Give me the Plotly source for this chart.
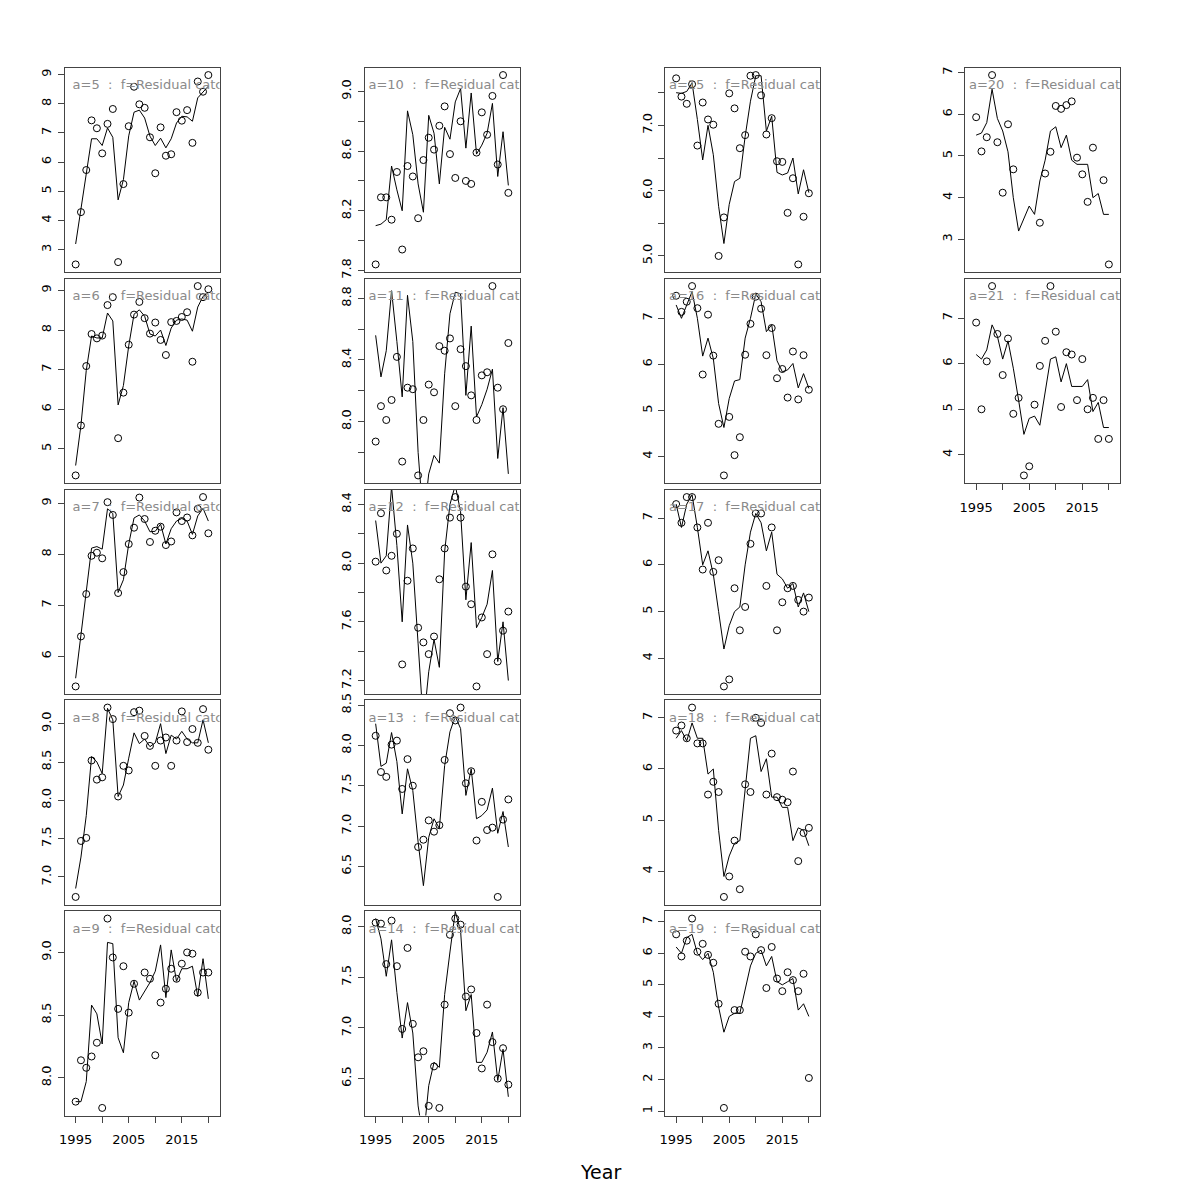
import plotly.graph_objects as go

years = [1995, 1996, 1997, 1998, 1999, 2000, 2001, 2002, 2003, 2004, 2005, 2006, 2007,
         2008, 2009, 2010, 2011, 2012, 2013, 2014, 2015, 2016, 2017, 2018, 2019, 2020]

obs_5 = [2.50, 4.29, 5.73, 7.43, 7.16, 6.30, 7.31, 7.82, 2.58, 5.25, 7.23, 8.58, 7.98,
         7.86, 6.85, 5.62, 7.19, 6.22, 6.27, 7.71, 7.42, 7.78, 6.66, 8.76, 8.41, 8.98]
fit_5 = [3.2, 4.4, 5.7, 6.8, 6.8, 6.57, 7.17, 6.85, 4.71, 5.4, 6.9, 7.71, 7.78,
         7.51, 6.89, 6.57, 6.82, 6.49, 6.8, 7.34, 7.57, 7.55, 7.4, 8.2, 8.4, 8.6]
obs_6 = [4.33, 5.59, 7.09, 7.90, 7.79, 7.86, 8.63, 8.83, 5.27, 6.42, 7.63, 8.39, 8.71,
         8.30, 7.91, 8.19, 7.75, 7.37, 8.20, 8.23, 8.33, 8.45, 7.20, 9.11, 8.83, 9.03]
fit_6 = [4.58, 5.6, 6.98, 7.85, 7.8, 7.8, 8.43, 8.23, 6.11, 6.6, 7.6, 8.4, 8.51,
         8.35, 7.9, 7.85, 8.0, 7.61, 8.05, 8.25, 8.28, 8.25, 7.97, 8.58, 8.85, 8.95]
obs_7 = [5.41, 6.39, 7.22, 7.97, 8.03, 7.92, 9.02, 8.77, 7.24, 7.65, 8.20, 8.52, 9.11,
         8.69, 8.24, 8.46, 8.54, 8.18, 8.25, 8.82, 8.65, 8.72, 8.37, 8.89, 9.12, 8.41]
fit_7 = [5.57, 6.4, 7.2, 8.12, 8.15, 8.1, 8.89, 8.8, 7.25, 7.5, 8.2, 8.71, 8.77,
         8.65, 8.44, 8.45, 8.59, 8.2, 8.5, 8.65, 8.7, 8.65, 8.39, 8.75, 8.9, 8.65]
obs_8 = [6.74, 7.47, 7.51, 8.52, 8.27, 8.30, 9.21, 9.06, 8.05, 8.45, 8.39, 9.15, 9.17,
         8.84, 8.71, 8.45, 8.78, 8.82, 8.45, 8.78, 9.16, 8.76, 8.93, 8.75, 9.19, 8.66]
fit_8 = [6.85, 7.26, 7.8, 8.57, 8.5, 8.35, 9.2, 9.05, 8.05, 8.2, 8.55, 8.88, 8.74,
         8.8, 8.7, 8.75, 9.0, 8.61, 8.85, 8.8, 8.9, 8.8, 8.75, 8.75, 9.05, 8.75]
obs_9 = [7.81, 8.14, 8.08, 8.17, 8.28, 7.76, 9.27, 8.96, 8.55, 8.89, 8.52, 8.75, None,
         8.84, 8.79, 8.18, 8.60, 8.71, 8.87, 8.79, 8.91, 9.00, 8.99, 8.68, 8.84, 8.84]
fit_9 = [7.81, 7.81, 7.97, 8.58, 8.51, 8.27, 9.08, 9.07, 8.32, 8.20, 8.60, 8.77, 8.62,
         8.69, 8.76, 8.85, 9.06, 8.64, 9.02, 8.77, 8.87, 8.87, 8.89, 8.65, 8.95, 8.63]
obs_10 = [7.84, 8.29, 8.29, 8.14, 8.46, 7.94, 8.50, 8.43, 8.15, 8.54, 8.69, 8.61, 8.77,
          8.90, 8.58, 8.42, 8.80, 8.40, 8.38, 8.59, 8.86, 8.71, 8.97, 8.51, 9.11, 8.32]
fit_10 = [8.10, 8.11, 8.14, 8.50, 8.34, 8.20, 8.87, 8.71, 8.38, 8.19, 8.84, 8.72, 8.38,
          8.76, 8.68, 8.93, 9.02, 8.62, 8.99, 8.58, 8.64, 8.72, 8.92, 8.43, 8.73, 8.37]
obs_11 = [7.87, 8.10, 8.01, 8.14, 8.42, 7.74, 8.22, 8.21, 7.65, 8.01, 8.24, 8.19, 8.49,
          8.46, 8.54, 8.10, 8.47, 8.36, 8.17, 8.01, 8.30, 8.32, 8.88, 8.22, 8.08, 8.51]
fit_11 = [8.56, 8.29, 8.46, 8.85, 8.52, 8.16, 8.82, 8.52, 7.80, 7.35, 7.66, 7.78, 7.73,
          8.31, 8.70, 8.84, 8.83, 8.17, 8.62, 8.03, 8.11, 8.21, 8.34, 7.76, 8.09, 7.66]
obs_12 = [8.01, 8.34, 7.95, 8.05, 8.20, 7.31, 7.88, 8.10, 7.56, 7.46, 7.38, 7.50, 7.89,
          8.10, 8.31, 8.45, 8.31, 7.84, 7.72, 7.16, 7.63, 7.38, 8.06, 7.33, 7.54, 7.67]
fit_12 = [8.29, 8.00, 8.05, 8.52, 8.12, 7.60, 8.26, 8.00, 7.45, 6.90, 7.26, 7.48, 7.29,
          8.08, 8.40, 8.53, 8.35, 7.75, 8.14, 7.56, 7.63, 7.72, 7.95, 7.33, 7.60, 7.20]
obs_13 = [8.12, 7.67, 7.61, 8.01, 8.06, 7.46, 7.83, 7.50, 6.74, 6.83, 7.07, 6.93, 7.01,
          7.82, 8.40, 8.31, 8.47, 7.53, 7.68, 6.82, 7.30, 6.95, 6.98, 6.12, 7.08, 7.33]
fit_13 = [8.27, 7.74, 7.78, 8.16, 7.80, 7.15, 7.71, 7.44, 6.80, 6.26, 6.86, 7.09, 6.97,
          7.75, 8.17, 8.36, 8.21, 7.38, 7.71, 7.09, 7.13, 7.20, 7.47, 6.91, 7.18, 6.74]
obs_14 = [8.04, 8.03, 7.63, 8.06, 7.61, 6.99, 7.79, 7.04, 6.71, 6.77, 6.23, 6.62, 6.21,
          7.23, 7.92, 8.08, 8.02, 7.31, 7.38, 6.95, 6.60, 7.23, 6.86, 6.50, 6.80, 6.44]
fit_14 = [8.08, 7.88, 7.51, 7.87, 7.35, 6.90, 7.25, 6.95, 6.23, 5.90, 6.43, 6.66, 6.61,
          7.33, 7.75, 8.15, 7.96, 7.17, 7.33, 6.66, 6.66, 6.76, 6.96, 6.48, 6.79, 6.32]
obs_15 = [7.72, 7.44, 7.33, 7.63, 6.69, 7.35, 7.09, 7.01, 5.00, 5.59, 7.49, 7.26, 6.65,
          6.85, 7.76, 7.77, 7.46, 6.86, 7.11, 6.45, 6.44, 5.66, 6.19, 4.87, 5.60, 5.96]
fit_15 = [7.50, 7.49, 7.52, 7.65, 7.09, 6.47, 7.00, 6.55, 5.76, 5.19, 5.79, 6.14, 6.19,
          6.83, 7.37, 7.76, 7.76, 6.91, 7.14, 6.28, 6.24, 6.27, 6.50, 5.95, 6.32, 5.97]
obs_16 = [7.49, 7.14, 7.36, 7.70, 7.22, 5.78, 7.08, 6.19, 4.71, 3.59, 4.86, 4.03, 4.42,
          6.21, 6.88, 7.47, 7.21, 6.20, 6.79, 5.70, 5.90, 5.28, 6.28, 5.24, 6.20, 5.45]
fit_16 = [7.29, 7.00, 7.29, 7.58, 7.00, 6.18, 6.57, 6.13, 5.15, 4.63, 5.26, 5.64, 5.67,
          6.57, 7.00, 7.53, 7.36, 6.71, 6.86, 6.08, 5.84, 5.88, 6.02, 5.49, 5.80, 5.48]
obs_17 = [7.30, 6.90, 7.45, 7.45, 6.80, 5.90, 6.90, 5.85, 6.10, 3.40, 3.55, 5.50, 4.60,
          5.10, 6.45, 7.10, 7.10, 5.55, 6.80, 4.60, 5.20, 5.50, 5.55, 5.25, 5.00, 5.30]
fit_17 = [7.30, 6.80, 7.30, 7.50, 6.80, 6.00, 6.30, 5.80, 5.00, 4.20, 4.70, 5.00, 5.10,
          6.00, 6.70, 7.10, 6.90, 6.30, 6.70, 5.80, 5.70, 5.50, 5.60, 5.10, 5.40, 5.00]
obs_18 = [6.75, 6.85, 6.60, 7.20, 6.50, 6.50, 5.50, 5.75, 5.55, 3.50, 3.90, 4.60, 3.65,
          5.70, 5.55, 7.00, 6.90, 5.50, 6.30, 5.45, 5.40, 5.35, 5.95, 4.20, 4.75, 4.85]
fit_18 = [6.60, 6.75, 6.55, 6.90, 6.60, 6.60, 5.90, 6.00, 4.80, 3.90, 4.30, 4.55, 4.60,
          5.60, 6.60, 6.65, 5.95, 6.20, 5.45, 5.45, 5.25, 5.25, 4.60, 4.85, 4.80, 4.50]
obs_19 = [6.60, 5.90, 6.40, 7.10, 6.05, 6.30, 5.95, 5.70, 4.40, 1.10, None, 4.20, 4.20,
          6.05, 5.90, 6.60, 6.10, 4.90, 6.20, 5.20, 4.80, 5.40, 5.15, 4.80, 5.35, 2.05]
fit_19 = [6.20, 6.00, 6.50, 6.60, 6.00, 5.80, 6.00, 5.40, 4.30, 3.50, 4.00, 4.10, 4.10,
          4.90, 5.60, 6.00, 6.10, 5.60, 5.90, 5.10, 5.00, 5.10, 5.20, 4.20, 4.40, 4.00]
obs_20 = [5.93, 5.11, 5.45, 6.94, 5.33, 4.12, 5.76, 4.68, None, None, None, None, 3.40,
          4.58, 5.10, 6.20, 6.13, 6.22, 6.31, 4.96, 4.56, 3.90, 5.20, None, 4.42, 2.40]
fit_20 = [5.50, 5.55, 5.80, 6.60, 5.90, 5.60, 5.10, 4.00, 3.20, 3.50, 3.80, 3.60, 4.40,
          4.90, 5.60, 5.70, 5.20, 5.50, 4.90, 4.80, 4.80, 4.80, 4.00, 4.10, 3.60, 3.60]
obs_21 = [6.90, 5.00, 6.05, 7.70, 6.65, 5.75, 6.55, 4.90, 5.25, 3.55, 3.75, 5.10, 5.95,
          6.50, 7.70, 6.70, 5.05, 6.25, 6.20, 5.20, 6.10, 5.00, 5.25, 4.35, 5.20, 4.35]
fit_21 = [6.20, 6.10, 6.30, 6.85, 6.60, 6.10, 6.50, 5.90, 5.20, 4.45, 4.80, 4.85, 4.65,
          5.40, 6.10, 6.15, 5.60, 6.00, 5.50, 5.50, 5.50, 5.65, 4.95, 5.15, 4.60, 4.60]

ages = [5, 6, 7, 8, 9, 10, 11, 12, 13, 14, 15, 16, 17, 18, 19, 20, 21]
obs = {5: obs_5, 6: obs_6, 7: obs_7, 8: obs_8, 9: obs_9, 10: obs_10, 11: obs_11, 12: obs_12,
       13: obs_13, 14: obs_14, 15: obs_15, 16: obs_16, 17: obs_17, 18: obs_18, 19: obs_19,
       20: obs_20, 21: obs_21}
fit = {5: fit_5, 6: fit_6, 7: fit_7, 8: fit_8, 9: fit_9, 10: fit_10, 11: fit_11, 12: fit_12,
       13: fit_13, 14: fit_14, 15: fit_15, 16: fit_16, 17: fit_17, 18: fit_18, 19: fit_19,
       20: fit_20, 21: fit_21}

yticks = {
    5: [3, 4, 5, 6, 7, 8, 9], 6: [5, 6, 7, 8, 9], 7: [6, 7, 8, 9],
    8: [7.0, 7.5, 8.0, 8.5, 9.0], 9: [8.0, 8.5, 9.0],
    10: [7.8, 8.0, 8.2, 8.4, 8.6, 8.8, 9.0], 11: [7.6, 7.8, 8.0, 8.2, 8.4, 8.6, 8.8],
    12: [7.2, 7.4, 7.6, 7.8, 8.0, 8.2, 8.4], 13: [6.5, 7.0, 7.5, 8.0, 8.5],
    14: [6.5, 7.0, 7.5, 8.0], 15: [5.0, 5.5, 6.0, 6.5, 7.0, 7.5], 16: [4, 5, 6, 7],
    17: [4, 5, 6, 7], 18: [4, 5, 6, 7], 19: [1, 2, 3, 4, 5, 6, 7], 20: [3, 4, 5, 6, 7],
    21: [4, 5, 6, 7]}
ylabels = {
    5: ["3", "4", "5", "6", "7", "8", "9"], 6: ["5", "6", "7", "8", "9"], 7: ["6", "7", "8", "9"],
    8: ["7.0", "7.5", "8.0", "8.5", "9.0"], 9: ["8.0", "8.5", "9.0"],
    10: ["7.8", "", "8.2", "", "8.6", "", "9.0"], 11: ["7.6", "", "8.0", "", "8.4", "", "8.8"],
    12: ["7.2", "", "7.6", "", "8.0", "", "8.4"], 13: ["6.5", "7.0", "7.5", "8.0", "8.5"],
    14: ["6.5", "7.0", "7.5", "8.0"], 15: ["5.0", "", "6.0", "", "7.0", ""],
    16: ["4", "5", "6", "7"], 17: ["4", "5", "6", "7"], 18: ["4", "5", "6", "7"],
    19: ["1", "2", "3", "4", "5", "6", "7"], 20: ["3", "4", "5", "6", "7"],
    21: ["4", "5", "6", "7"]}

xticks = [1995, 2000, 2005, 2010, 2015, 2020]
xlabels = ["1995", "", "2005", "", "2015", ""]
x_range = [1992.9, 2022.1]
bottom_ages = {9, 14, 19, 21}

# layout geometry (pixels); the page body adds an 8px offset, compensated here
W = H = 1200
OFF = 8
col_left = [64.5 - OFF, 364.5 - OFF, 665.0 - OFF, 965.0 - OFF]
col_w = 155.0
row_top = [67.5 - OFF, 278.5 - OFF, 489.5 - OFF, 700.0 - OFF, 911.0 - OFF]
row_h = 204.5

fig = go.Figure()
layout = {}
font_family = "DejaVu Sans"
frame = "#444444"

for i, a in enumerate(ages):
    k = i + 1
    col = min((a - 5) // 5, 3)
    row = (a - 5) % 5 if a < 20 else a - 20
    xs = "" if k == 1 else str(k)
    xa, ya = "x" + xs, "y" + xs
    vals = [v for v in obs[a] if v is not None]
    lo, hi = min(vals), max(vals)
    pad = (hi - lo) * 0.04
    yr = [lo - pad, hi + pad]
    x0 = col_left[col] / W
    x1 = (col_left[col] + col_w) / W
    y1 = 1 - row_top[row] / H
    y0 = 1 - (row_top[row] + row_h) / H

    fig.add_trace(go.Scatter(x=years, y=fit[a], mode="lines", xaxis=xa, yaxis=ya,
                             line=dict(color="black", width=1), showlegend=False,
                             connectgaps=True, hoverinfo="skip"))
    fig.add_trace(go.Scatter(x=years, y=obs[a], mode="markers", xaxis=xa, yaxis=ya,
                             marker=dict(symbol="circle-open", size=7, color="black",
                                         line=dict(width=1, color="black")),
                             showlegend=False, cliponaxis=True))
    # panel label, centred (as R's text()), clipped by the panel box
    tx = x_range[0] + (x_range[1] - x_range[0]) * 0.5625
    ty = yr[1] - (yr[1] - yr[0]) * 0.09
    fig.add_trace(go.Scatter(x=[tx], y=[ty], mode="text", xaxis=xa, yaxis=ya,
                             text=["a=%d\u00a0\u00a0:\u00a0\u00a0f=Residual catch" % a],
                             textposition="middle center", cliponaxis=True,
                             textfont=dict(family=font_family, size=13, color="#8a8a8a"),
                             showlegend=False, hoverinfo="skip"))

    show_x = a in bottom_ages
    layout["xaxis" + xs] = dict(
        domain=[x0, x1], anchor=ya, range=x_range, showgrid=False, zeroline=False,
        automargin=False, showline=True, mirror=True, linecolor=frame, linewidth=1,
        ticks="outside" if show_x else "", ticklen=6, tickcolor=frame,
        tickvals=xticks if show_x else [], ticktext=xlabels if show_x else [],
        showticklabels=show_x, ticklabelstandoff=6,
        tickfont=dict(family=font_family, size=13, color="black"))
    layout["yaxis" + xs] = dict(
        domain=[y0, y1], anchor=xa, range=yr, showgrid=False, zeroline=False,
        automargin=False, showline=True, mirror=True, linecolor=frame, linewidth=1,
        ticks="outside", ticklen=6, tickcolor=frame,
        tickvals=yticks[a], ticktext=ylabels[a], tickangle=-90, ticklabelstandoff=1,
        tickfont=dict(family=font_family, size=13, color="black"))

fig.update_layout(**layout)
fig.update_layout(
    width=W, height=H, margin=dict(l=0, r=0, t=0, b=0, autoexpand=False),
    paper_bgcolor="white", plot_bgcolor="white",
    annotations=[dict(text="Year", x=(600 - OFF) / W, y=1 - (1172 - OFF) / H,
                      xref="paper", yref="paper",
                      xanchor="center", yanchor="middle", showarrow=False,
                      font=dict(family=font_family, size=19, color="black"))])

fig.write_html("out.html")
